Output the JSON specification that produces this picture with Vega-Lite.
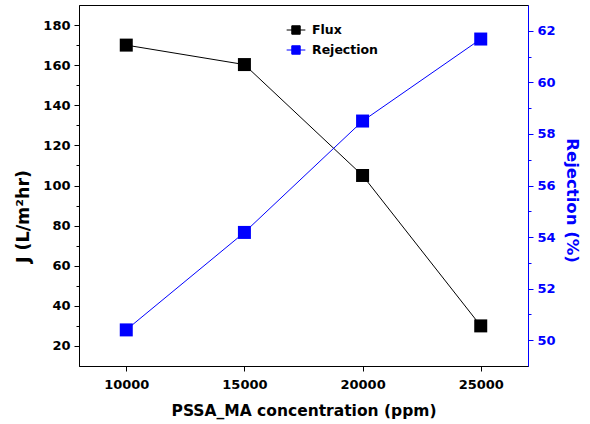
{
  "$schema": "https://vega.github.io/schema/vega-lite/v6.json",
  "width": 449,
  "height": 361,
  "autosize": {"type": "none"},
  "padding": {"left": 79, "top": 5, "right": 62, "bottom": 58},
  "background": "white",
  "config": {
    "view": {"stroke": "black", "strokeWidth": 1},
    "font": "DejaVu Sans",
    "axis": {
      "labelFont": "DejaVu Sans", "labelFontWeight": "bold", "labelFontSize": 13,
      "titleFont": "DejaVu Sans", "titleFontWeight": "bold", "titleFontSize": 15.5,
      "grid": false, "domainColor": "black", "tickColor": "black", "labelColor": "black", "titleColor": "black"
    }
  },
  "data": {
    "values": [
      {"conc": 10000, "series": "Flux", "value": 170},
      {"conc": 15000, "series": "Flux", "value": 160.3},
      {"conc": 20000, "series": "Flux", "value": 105},
      {"conc": 25000, "series": "Flux", "value": 30},
      {"conc": 10000, "series": "Rejection", "value": 50.4},
      {"conc": 15000, "series": "Rejection", "value": 54.18},
      {"conc": 20000, "series": "Rejection", "value": 58.5},
      {"conc": 25000, "series": "Rejection", "value": 61.68}
    ]
  },
  "encoding": {
    "x": {
      "field": "conc", "type": "quantitative",
      "scale": {"domain": [8000, 27000], "nice": false, "zero": false},
      "axis": {"values": [10000, 15000, 20000, 25000], "format": "d", "title": "PSSA_MA concentration (ppm)", "tickSize": 5, "labelPadding": 7, "titlePadding": 12}
    },
    "color": {
      "field": "series", "type": "nominal",
      "scale": {"domain": ["Flux", "Rejection"], "range": ["black", "#0000ff"]},
      "legend": {
        "title": null, "orient": "none", "legendX": 207, "legendY": 15,
        "labelFont": "DejaVu Sans", "labelFontWeight": "bold", "labelFontSize": 12.5, "labelColor": "black",
        "symbolType": "M-1,0L1,0M-0.45,-0.45H0.45V0.45H-0.45Z", "symbolSize": 350, "symbolStrokeWidth": 1,
        "rowPadding": 3, "labelOffset": 6
      }
    }
  },
  "layer": [
    {
      "transform": [{"filter": "datum.series === 'Flux'"}],
      "encoding": {
        "y": {
          "field": "value", "type": "quantitative",
          "scale": {"domain": [10, 190], "nice": false, "zero": false},
          "axis": {
            "orient": "left", "title": "J (L/m²hr)",
            "values": [20, 30, 40, 50, 60, 70, 80, 90, 100, 110, 120, 130, 140, 150, 160, 170, 180],
            "labelExpr": "datum.value % 20 === 0 ? datum.label : ''",
            "tickSize": {"condition": {"test": "datum.value % 20 === 0", "value": 5}, "value": 3},
            "labelPadding": 4, "titlePadding": 10,
            "titleFontSize": 17.5, "titleY": 211
          }
        }
      },
      "layer": [
        {"mark": {"type": "line", "strokeWidth": 1}},
        {"mark": {"type": "point", "shape": "square", "filled": true, "opacity": 1, "size": 169}}
      ]
    },
    {
      "transform": [{"filter": "datum.series === 'Rejection'"}],
      "encoding": {
        "y": {
          "field": "value", "type": "quantitative",
          "scale": {"domain": [49, 63], "nice": false, "zero": false},
          "axis": {
            "orient": "right", "title": "Rejection (%)",
            "values": [50, 51, 52, 53, 54, 55, 56, 57, 58, 59, 60, 61, 62],
            "labelExpr": "datum.value % 2 === 0 ? datum.label : ''",
            "tickSize": {"condition": {"test": "datum.value % 2 === 0", "value": 5}, "value": 3},
            "domainColor": "#0000ff", "tickColor": "#0000ff", "labelColor": "#0000ff", "titleColor": "#0000ff",
            "labelPadding": 4, "titlePadding": 8,
            "titleFontSize": 16.5, "titleY": 195
          }
        }
      },
      "layer": [
        {"mark": {"type": "line", "strokeWidth": 1}},
        {"mark": {"type": "point", "shape": "square", "filled": true, "opacity": 1, "size": 169}}
      ]
    }
  ],
  "resolve": {"scale": {"y": "independent"}}
}
